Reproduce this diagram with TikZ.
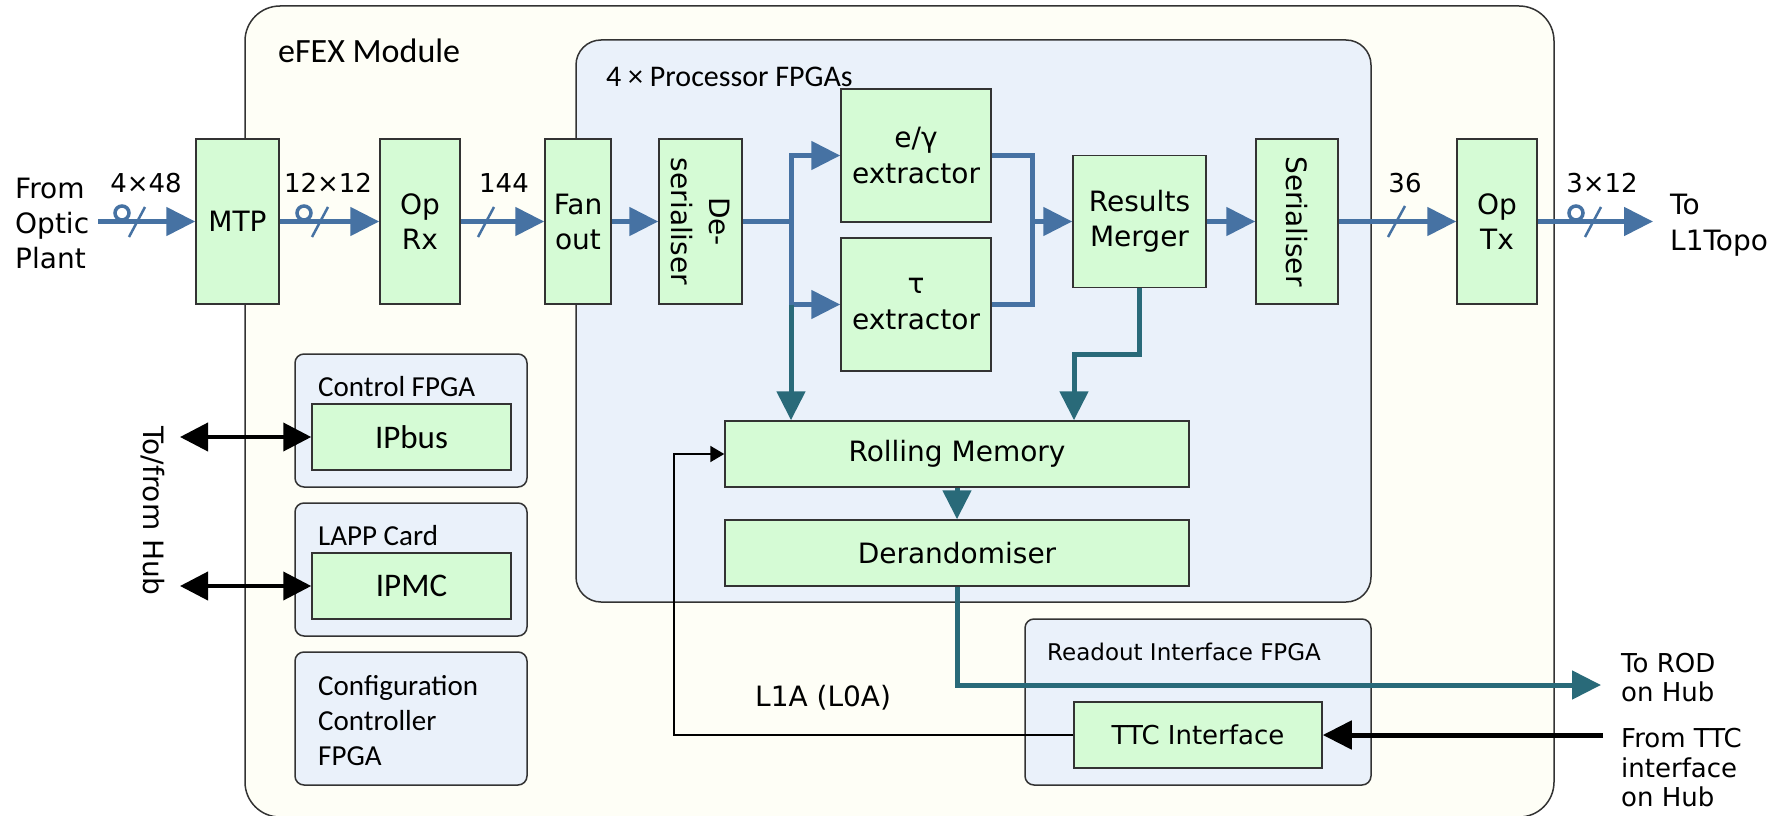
\documentclass[tikz,border=0pt]{standalone}
\usepackage{fontspec}
\setmainfont{DejaVu Sans}
\newfontfamily\calfont{Carlito}
\usetikzlibrary{arrows.meta}
\definecolor{fblue}{HTML}{4672A3}
\definecolor{fteal}{HTML}{296A79}
\definecolor{gfill}{HTML}{D5FBD5}
\definecolor{pfill}{HTML}{EAF1FA}
\definecolor{efill}{HTML}{FEFEF6}
\definecolor{bord}{HTML}{333333}
\newcommand\fsz[2]{\fontsize{#1pt}{#2pt}\selectfont}
\begin{document}
\begin{tikzpicture}[x=1pt,y=-1pt,
  gbox/.style={draw=bord, fill=gfill, line width=1.5pt, inner sep=0pt, align=center, font=\fsz{28}{35}},
  cont/.style={draw=bord, line width=1.5pt, inner sep=0pt},
  lbl/.style={inner sep=0pt, align=left},
  bline/.style={draw=fblue, line width=5pt},
  barr/.style={bline, -{Triangle[length=29pt,width=28pt]}},
  tline/.style={draw=fteal, line width=5pt},
  tarr/.style={tline, -{Triangle[length=29pt,width=28pt]}},
  slash/.style={draw=fblue, line width=2.5pt},
  loopc/.style={draw=fblue, line width=3.5pt},
  darr/.style={draw=black, line width=4pt, {Triangle[length=28pt,width=28pt]}-{Triangle[length=28pt,width=28pt]}},
  karr/.style={draw=black, line width=5pt, -{Triangle[length=29pt,width=28pt]}},
  thinarr/.style={draw=black, line width=2pt, -{Triangle[length=14pt,width=16pt]}},
  numl/.style={inner sep=0pt, anchor=base, font=\fsz{26}{30}}
]
\useasboundingbox (0,0) rectangle (1789,816);
\fill[white] (0,0) rectangle (1789,816);

% containers
\node[cont, fill=efill, rounded corners=35pt, minimum width=1309pt, minimum height=811pt] (efex) at (899.5,411.5) {};
\node[cont, fill=pfill, rounded corners=25pt, minimum width=795pt, minimum height=562pt] (proc) at (973.5,321) {};
\node[cont, fill=pfill, rounded corners=9pt, minimum width=232pt, minimum height=133pt] (ctrl) at (411,420.5) {};
\node[cont, fill=pfill, rounded corners=9pt, minimum width=232pt, minimum height=133pt] (lapp) at (411,569.5) {};
\node[cont, fill=pfill, rounded corners=9pt, minimum width=232pt, minimum height=133pt] (conf) at (411,718.5) {};
\node[cont, fill=pfill, rounded corners=9pt, minimum width=346pt, minimum height=166pt] (rdo) at (1198,702) {};

% container labels
\node[lbl, anchor=base west, font=\calfont\fsz{34}{38}] (efexl) at (278,63) {eFEX Module};
\node[lbl, anchor=base west, font=\calfont\fsz{30}{34}] (procl) at (606,87) {4 × Processor FPGAs};
\node[lbl, anchor=base west, font=\calfont\fsz{29}{34}] (ctrll) at (318,396) {Control FPGA};
\node[lbl, anchor=base west, font=\calfont\fsz{29}{34}] (lappl) at (318,545) {LAPP Card};
\node[lbl, anchor=west, font=\calfont\fsz{29}{35}] (confl) at (318,721) {Configuration\\Controller\\FPGA};
\node[lbl, anchor=base west, font=\fsz{23}{28}] (rdol) at (1047,660) {Readout Interface FPGA};

% green boxes
\node[gbox, minimum width=83pt, minimum height=165pt] (mtp) at (237.5,221.5) {MTP};
\node[gbox, minimum width=80pt, minimum height=165pt] (oprx) at (420,221.5) {Op\\Rx};
\node[gbox, minimum width=66pt, minimum height=165pt] (fan) at (578,221.5) {Fan\\out};
\node[gbox, minimum width=83pt, minimum height=165pt] (deser) at (700.5,221.5) {};
\node[inner sep=0pt, align=center, rotate=-90, font=\fsz{28}{38}] (deserl) at (deser.center) {De-\\serialiser};
\node[gbox, minimum width=150pt, minimum height=133pt, font=\fsz{28}{36}] (eg) at (916,155.5) {e/γ\\extractor};
\node[gbox, minimum width=150pt, minimum height=133pt, font=\fsz{28}{36}] (tau) at (916,304.5) {τ\\extractor};
\node[gbox, minimum width=133pt, minimum height=132pt] (merger) at (1139.5,221.5) {Results\\Merger};
\node[gbox, minimum width=82pt, minimum height=165pt] (ser) at (1297,221.5) {};
\node[inner sep=0pt, rotate=-90, font=\fsz{28}{34}] (serl) at (ser.center) {Serialiser};
\node[gbox, minimum width=80pt, minimum height=165pt] (optx) at (1497,221.5) {Op\\Tx};
\node[gbox, minimum width=464pt, minimum height=66pt] (rm) at (957,454) {Rolling Memory};
\node[gbox, minimum width=464pt, minimum height=66pt] (dr) at (957,553) {Derandomiser};
\node[gbox, minimum width=248pt, minimum height=66pt, font=\fsz{26}{30}] (ttc) at (1198,735) {TTC Interface};
\node[gbox, minimum width=199pt, minimum height=66pt, font=\calfont\fsz{33}{36}] (ipbus) at (411.5,437) {IPbus};
\node[gbox, minimum width=199pt, minimum height=66pt, font=\calfont\fsz{33}{36}] (ipmc) at (411.5,586) {IPMC};

% outside labels
\node[lbl, anchor=west, font=\fsz{28}{35}] (src) at (15,223) {From\\Optic\\Plant};
\node[lbl, anchor=west, font=\fsz{28}{36}] (dst) at (1670,225) {To\\L1Topo};
\node[inner sep=0pt, rotate=-90, font=\fsz{28}{34}] (hubl) at (153,511) {To/from Hub};
\node[lbl, anchor=west, font=\fsz{26}{29}] (rodl) at (1621,678) {To ROD\\on Hub};
\node[lbl, anchor=west, font=\fsz{26}{29.5}] (ttcl) at (1621,768) {From TTC\\interface\\on Hub};
\node[lbl, anchor=base west, font=\fsz{28}{34}] (l1al) at (755,706) {L1A (L0A)};

% number labels
\node[numl] (n1) at (146,192) {4×48};
\node[numl] (n2) at (328,192) {12×12};
\node[numl] (n3) at (504,192) {144};
\node[numl] (n4) at (1405,192) {36};
\node[numl] (n5) at (1602,192) {3×12};

% coordinates
\coordinate (inA) at (98,221.5);
\coordinate (outL) at (1653,221.5);
\coordinate (b1) at (791,221.5);
\coordinate (m1) at (1032,221.5);
\coordinate (m2) at (1074,354);
\coordinate (rod) at (1601,685);
\coordinate (ttcin) at (1603,735);
\coordinate (l1) at (674,735);
\coordinate (hub1) at (180,437);
\coordinate (hub2) at (180,586);

% main data path
\draw[barr] (inA) -- (inA -| mtp.west);
\draw[barr] (mtp.east) -- (oprx.west);
\draw[barr] (oprx.east) -- (fan.west);
\draw[barr] (fan.east) -- (deser.west);
\draw[bline] (deser.east) -- (b1);
\draw[barr] (b1) |- (eg.west);
\draw[barr] (b1) |- (tau.west);
\draw[tarr] (b1 |- tau.west) -- (b1 |- rm.north);
\draw[bline] (eg.east) -| (m1);
\draw[bline] (tau.east) -| (m1);
\draw[barr] (m1) -- (merger.west);
\draw[barr] (merger.east) -- (ser.west);
\draw[barr] (ser.east) -- (optx.west);
\draw[barr] (optx.east) -- (outL);
\draw[tarr] (merger.south) |- (m2) -- (m2 |- rm.north);
\draw[tarr] (rm.south) -- (dr.north);
\draw[tarr] (dr.south) |- (rod);
\draw[karr] (ttcin) -- (ttc.east);
\draw[thinarr] (ttc.west) -- (l1) |- (rm.west);
\draw[darr] (hub1) -- (ipbus.west);
\draw[darr] (hub2) -- (ipmc.west);

% bus slashes and fibre loops
\draw[slash] (129,237) -- (145,207);
\draw[slash] (312,237) -- (328,207);
\draw[slash] (478,237) -- (494,207);
\draw[slash] (1388,237) -- (1405,206);
\draw[slash] (1585,237) -- (1601,207);
\draw[loopc] (122,213) circle (7);
\draw[loopc] (304,213) circle (7);
\draw[loopc] (1576,213) circle (7);
\end{tikzpicture}
\end{document}
